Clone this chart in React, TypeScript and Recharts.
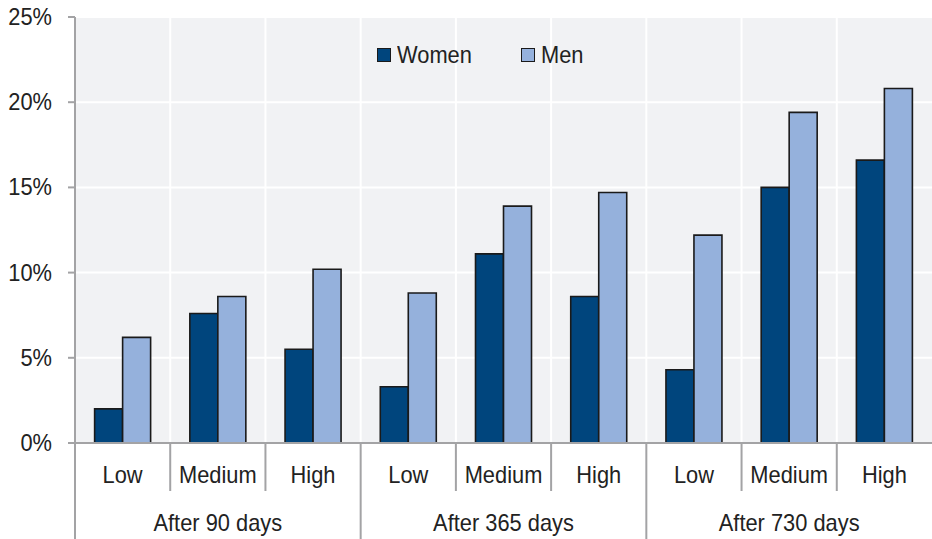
import React from "react";
import { BarChart, Bar, XAxis, YAxis, CartesianGrid } from "recharts";

const levels = ["Low", "Medium", "High", "Low", "Medium", "High", "Low", "Medium", "High"];
const periods = ["After 90 days", "After 365 days", "After 730 days"];
const women = [2.0, 7.6, 5.5, 3.3, 11.1, 8.6, 4.3, 15.0, 16.6];
const men = [6.2, 8.6, 10.2, 8.8, 13.9, 14.7, 12.2, 19.4, 20.8];
const yTicks = [0, 5, 10, 15, 20, 25];
const seriesNames = ["Women", "Men"];

const data = levels.map((level, i) => ({
  key: `${periods[Math.floor(i / 3)]}-${level}`,
  level,
  women: women[i],
  men: men[i],
}));

const W = 932;
const H = 539;
const Y_AXIS_W = 75;
const X_AXIS_H = 96;
const TOP = 17;
const PLOT_W = W - Y_AXIS_W;
const BAND = PLOT_W / levels.length;

const FONT = "'Liberation Sans', Arial, sans-serif";
const FS = 23;
const SQUEEZE = 0.95;
const TEXT = "#222222";
const AXIS = "#a3a3a5";
const WOMEN = "#00457d";
const MEN = "#95b1dc";
const EDGE = "#1a1a1a";
const SERIES_COLORS = [WOMEN, MEN];

// Slightly condensed label text, anchored at (x, y)
const Label = ({ x, y, anchor, children }: any) => (
  <text
    transform={`translate(${x},${y}) scale(${SQUEEZE},1)`}
    textAnchor={anchor}
    fill={TEXT}
    fontSize={FS}
    fontFamily={FONT}
  >
    {children}
  </text>
);

const CategoryTick = (props: any) => {
  const { x, y, index } = props;
  const left = x - BAND / 2;
  const groupStart = index % 3 === 0;
  return (
    <g>
      <line
        x1={left}
        x2={left}
        y1={y}
        y2={groupStart ? y + X_AXIS_H : y + 48}
        stroke={AXIS}
        strokeWidth={2}
      />
      <Label x={x} y={y + 40} anchor="middle">
        {levels[index]}
      </Label>
      {index % 3 === 1 && (
        <Label x={x} y={y + 88} anchor="middle">
          {periods[Math.floor(index / 3)]}
        </Label>
      )}
    </g>
  );
};

const ValueTick = (props: any) => {
  const { x, y, payload } = props;
  return (
    <Label x={x} y={y + 8} anchor="end">
      {`${payload.value}%`}
    </Label>
  );
};

const LegendBox = () => (
  <div
    style={{
      position: "absolute",
      left: 377,
      top: 41,
      display: "flex",
      alignItems: "center",
      fontFamily: FONT,
      fontSize: FS,
      color: TEXT,
      lineHeight: "28px",
    }}
  >
    {seriesNames.map((name, i) => (
      <div key={name} style={{ display: "flex", alignItems: "center", marginRight: i === 0 ? 51 : 0 }}>
        <div
          style={{
            width: 12,
            height: 12,
            background: SERIES_COLORS[i],
            border: `1.5px solid ${EDGE}`,
            marginRight: 6,
          }}
        />
        <span style={{ display: "inline-block", transform: `scaleX(${SQUEEZE})`, transformOrigin: "left center", width: name === "Women" ? 73 : 42 }}>
          {name}
        </span>
      </div>
    ))}
  </div>
);

export default function App() {
  return (
    <div style={{ position: "absolute", left: 0, top: 0, width: W, height: H, background: "#fff" }}>
      <BarChart
        width={W}
        height={H}
        data={data}
        margin={{ top: TOP, right: 0, bottom: 0, left: 0 }}
        barGap={0}
        barCategoryGap="20.6%"
      >
        <CartesianGrid
          fill="#f1f2f4"
          stroke="#ffffff"
          strokeWidth={2}
          verticalCoordinatesGenerator={({ offset }: any) =>
            levels.slice(1).map((_, i) => offset.left + (i + 1) * (offset.width / levels.length))
          }
        />
        <XAxis
          dataKey="key"
          height={X_AXIS_H}
          interval={0}
          tickLine={false}
          tickSize={0}
          tickMargin={0}
          axisLine={{ stroke: AXIS, strokeWidth: 2 }}
          tick={<CategoryTick />}
        />
        <YAxis
          width={Y_AXIS_W}
          domain={[0, 25]}
          ticks={yTicks}
          interval={0}
          tickSize={7}
          tickMargin={16}
          axisLine={{ stroke: AXIS, strokeWidth: 2 }}
          tickLine={{ stroke: AXIS, strokeWidth: 2 }}
          tick={<ValueTick />}
        />
        <Bar dataKey="women" name="Women" fill={WOMEN} stroke={EDGE} strokeWidth={1.6} isAnimationActive={false} />
        <Bar dataKey="men" name="Men" fill={MEN} stroke={EDGE} strokeWidth={1.6} isAnimationActive={false} />
      </BarChart>
      <LegendBox />
    </div>
  );
}
